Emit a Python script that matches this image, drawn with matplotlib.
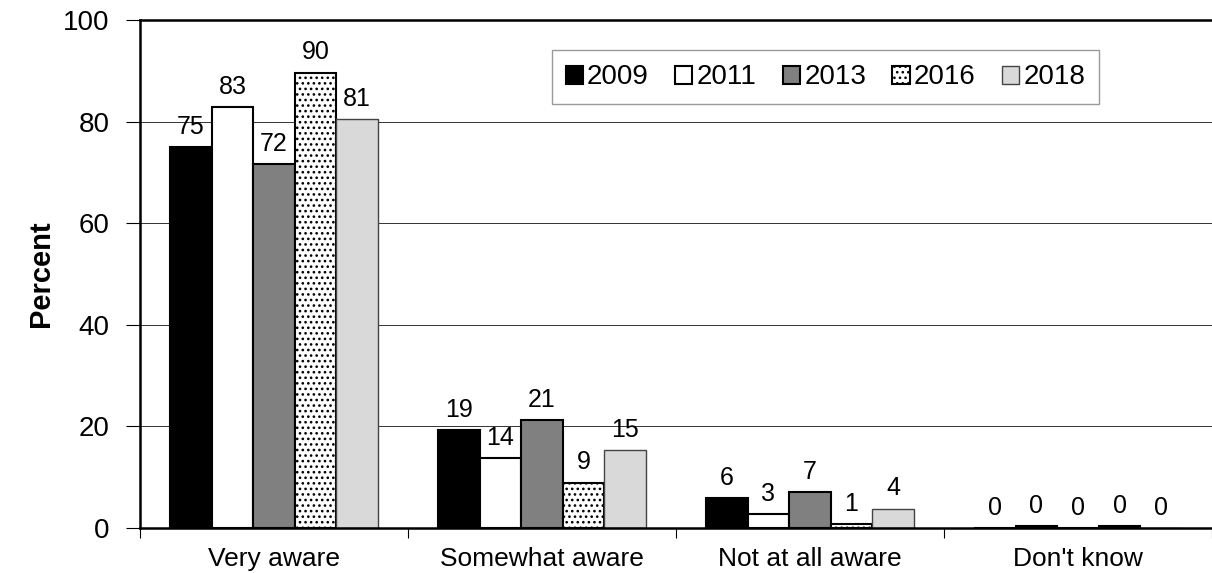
import matplotlib
matplotlib.use("Agg")
import matplotlib.pyplot as plt
import numpy as np

plt.rcParams['font.family'] = ['Liberation Sans', 'DejaVu Sans']
plt.rcParams['hatch.linewidth'] = 1.1

categories = ["Very aware", "Somewhat aware", "Not at all aware", "Don't know"]
years = ["2009", "2011", "2013", "2016", "2018"]
v2009 = [75.0, 19.2, 5.9, 0.0]
v2011 = [82.9, 13.8, 2.7, 0.3]
v2013 = [71.6, 21.2, 7.0, 0.0]
v2016 = [89.6, 8.9, 0.7, 0.3]
v2018 = [80.5, 15.3, 3.8, 0.0]
labels2009 = ["75", "19", "6", "0"]
labels2011 = ["83", "14", "3", "0"]
labels2013 = ["72", "21", "7", "0"]
labels2016 = ["90", "9", "1", "0"]
labels2018 = ["81", "15", "4", "0"]

series = [v2009, v2011, v2013, v2016, v2018]
series_labels = [labels2009, labels2011, labels2013, labels2016, labels2018]
styles = [
    dict(facecolor="#000000", edgecolor="#000000", linewidth=1.5),
    dict(facecolor="#ffffff", edgecolor="#000000", linewidth=1.5),
    dict(facecolor="#808080", edgecolor="#000000", linewidth=1.5),
    dict(facecolor="#ffffff", edgecolor="#000000", linewidth=1.5, hatch="..."),
    dict(facecolor="#d9d9d9", edgecolor="#444444", linewidth=1.0),
]

fig = plt.figure(figsize=(12.12, 5.73), dpi=100)
ax = fig.add_axes([140/1212, 45/573, 1072/1212, 508/573])

x = np.arange(len(categories))
bw = 0.155
for i, (vals, labs, st) in enumerate(zip(series, series_labels, styles)):
    pos = x + (i - 2) * bw
    bars = ax.bar(pos, vals, width=bw, label=years[i], zorder=2, **st)
    for b, lab in zip(bars, labs):
        ax.annotate(lab, (b.get_x() + b.get_width()/2, b.get_height()),
                    xytext=(0, 6), textcoords="offset points",
                    ha="center", va="bottom", fontsize=18, zorder=3)

ax.set_xlim(-0.5, 3.5)
ax.set_ylim(0, 100)
ax.set_yticks([0, 20, 40, 60, 80, 100])
ax.tick_params(axis='y', labelsize=20, length=10, width=0.8, pad=12, direction='out')
ax.yaxis.grid(True, color="#333333", linewidth=0.7, zorder=0)
ax.set_axisbelow(True)

ax.set_xticks(x)
ax.set_xticklabels(categories, fontsize=19)
ax.tick_params(axis='x', which='major', length=0, pad=14)
ax.set_xticks([-0.5, 0.5, 1.5, 2.5, 3.5], minor=True)
ax.tick_params(axis='x', which='minor', length=7, width=0.8, direction='out')

ax.spines['right'].set_visible(False)
for s in ['left', 'bottom', 'top']:
    ax.spines[s].set_linewidth(1.8)
    ax.spines[s].set_color('#000000')

ax.set_ylabel("Percent", fontsize=21, fontweight='bold', labelpad=6)

leg = ax.legend(loc='upper left', bbox_to_anchor=(0.384, 0.94), ncol=5,
                fontsize=20, frameon=True, fancybox=False, handlelength=0.62,
                handleheight=0.62, handletextpad=0.15, columnspacing=0.95,
                borderpad=0.5, borderaxespad=0)
leg.get_frame().set_edgecolor('#808080')
leg.get_frame().set_linewidth(1.0)

fig.savefig("out.png", dpi=100)
